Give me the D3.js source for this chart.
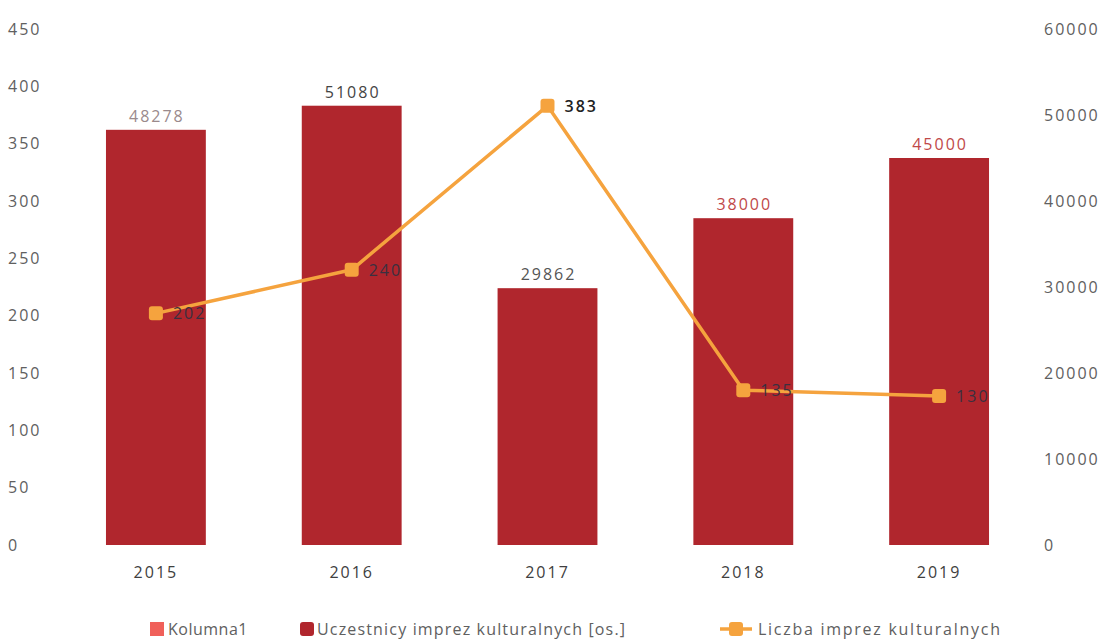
<!DOCTYPE html>
<html><head><meta charset="utf-8">
<script src="https://cdn.jsdelivr.net/npm/d3@7"></script>
<style>body{margin:0;background:#fff}svg{display:block}text{font-family:"Open Sans",sans-serif}</style>
</head><body><svg id="c" width="1110" height="640"></svg>
<script>
const years = ["2015","2016","2017","2018","2019"];
const participants = [48278, 51080, 29862, 38000, 45000];
const events = [202, 240, 383, 135, 130];
const leftTicks = [0,50,100,150,200,250,300,350,400,450];
const rightTicks = [0,10000,20000,30000,40000,50000,60000];
const legendLabels = ["Kolumna1","Uczestnicy imprez kulturalnych [os.]","Liczba imprez kulturalnych"];

const svg = d3.select("#c");
const plotTop = 29, plotBottom = 545;
const x = d3.scaleBand().domain(years).range([58, 1037]).paddingInner(0.49).paddingOuter(0.245);
const yL = d3.scaleLinear().domain([0,450]).range([plotBottom, plotTop]);
const yR = d3.scaleLinear().domain([0,60000]).range([plotBottom, plotTop]);
const barColor = "#B0262D", lineColor = "#F5A33E", txt = "#606060";
const numStyle = sel => sel.style("font-size","16px").style("letter-spacing","2px");

// left axis
const gl = svg.append("g").attr("transform","translate(8,0)")
  .call(d3.axisLeft(yL).tickValues(leftTicks).tickSize(0).tickPadding(0));
gl.select(".domain").remove();
gl.selectAll("text").attr("text-anchor","start").attr("fill",txt).attr("x",0).call(numStyle);
// right axis
const gr = svg.append("g").attr("transform","translate(1044,0)")
  .call(d3.axisRight(yR).tickValues(rightTicks).tickSize(0).tickPadding(0).tickFormat(d3.format("d")));
gr.select(".domain").remove();
gr.selectAll("text").attr("fill",txt).attr("x",0).call(numStyle);
// x axis labels
const gx = svg.append("g").attr("transform",`translate(0,${plotBottom})`)
  .call(d3.axisBottom(x).tickSize(0).tickPadding(22));
gx.select(".domain").remove();
gx.selectAll("text").attr("fill","#404040").call(numStyle);

// bars
svg.selectAll("rect.bar").data(years).join("rect").attr("class","bar")
  .attr("x",d=>x(d)).attr("width",x.bandwidth())
  .attr("y",(d,i)=>yR(participants[i])).attr("height",(d,i)=>plotBottom-yR(participants[i]))
  .attr("fill",barColor);
const barLabelColors = ["#9a8a8c","#444","#555","#C04848","#C04848"];
svg.selectAll("text.bl").data(years).join("text").attr("class","bl")
  .attr("x",d=>x(d)+x.bandwidth()/2+1).attr("y",(d,i)=>yR(participants[i])-8)
  .attr("text-anchor","middle").attr("fill",(d,i)=>barLabelColors[i]).call(numStyle)
  .text((d,i)=>participants[i]);

// line
const cx = d=>x(d)+x.bandwidth()/2;
const line = d3.line().x((d,i)=>cx(years[i])).y(d=>yL(d));
svg.append("path").datum(events).attr("d",line).attr("fill","none")
  .attr("stroke",lineColor).attr("stroke-width",3.5).attr("stroke-linejoin","round");
svg.selectAll("rect.pt").data(events).join("rect").attr("class","pt")
  .attr("x",(d,i)=>cx(years[i])-7).attr("y",d=>yL(d)-7).attr("width",14).attr("height",14)
  .attr("rx",3).attr("fill",lineColor);
svg.selectAll("text.ll").data(events).join("text").attr("class","ll")
  .attr("x",(d,i)=>cx(years[i])+17).attr("y",d=>yL(d)+6)
  .attr("fill",(d,i)=>i===2?"#222":"#3a3040").call(numStyle)
  .style("font-weight",(d,i)=>i===2?"600":"400")
  .text(d=>d);

// legend
const lg = svg.append("g").attr("transform","translate(0,630)");
const legStyle = sel => sel.attr("fill","#606060").style("font-size","16px").attr("lengthAdjust","spacing");
lg.append("rect").attr("x",150).attr("y",-8).attr("width",14).attr("height",14).attr("fill","#F0605A");
lg.append("text").attr("x",168).attr("y",5).call(legStyle).style("letter-spacing","0.5px").text(legendLabels[0]);
lg.append("rect").attr("x",300).attr("y",-8).attr("width",14).attr("height",14).attr("rx",3).attr("fill",barColor);
lg.append("text").attr("x",317).attr("y",5).call(legStyle).attr("textLength",308).text(legendLabels[1]);
lg.append("line").attr("x1",720).attr("x2",752).attr("y1",-1).attr("y2",-1).attr("stroke",lineColor).attr("stroke-width",3.5);
lg.append("rect").attr("x",729).attr("y",-8).attr("width",14).attr("height",14).attr("rx",3).attr("fill",lineColor);
lg.append("text").attr("x",758).attr("y",5).call(legStyle).attr("textLength",242).text(legendLabels[2]);
</script></body></html>
